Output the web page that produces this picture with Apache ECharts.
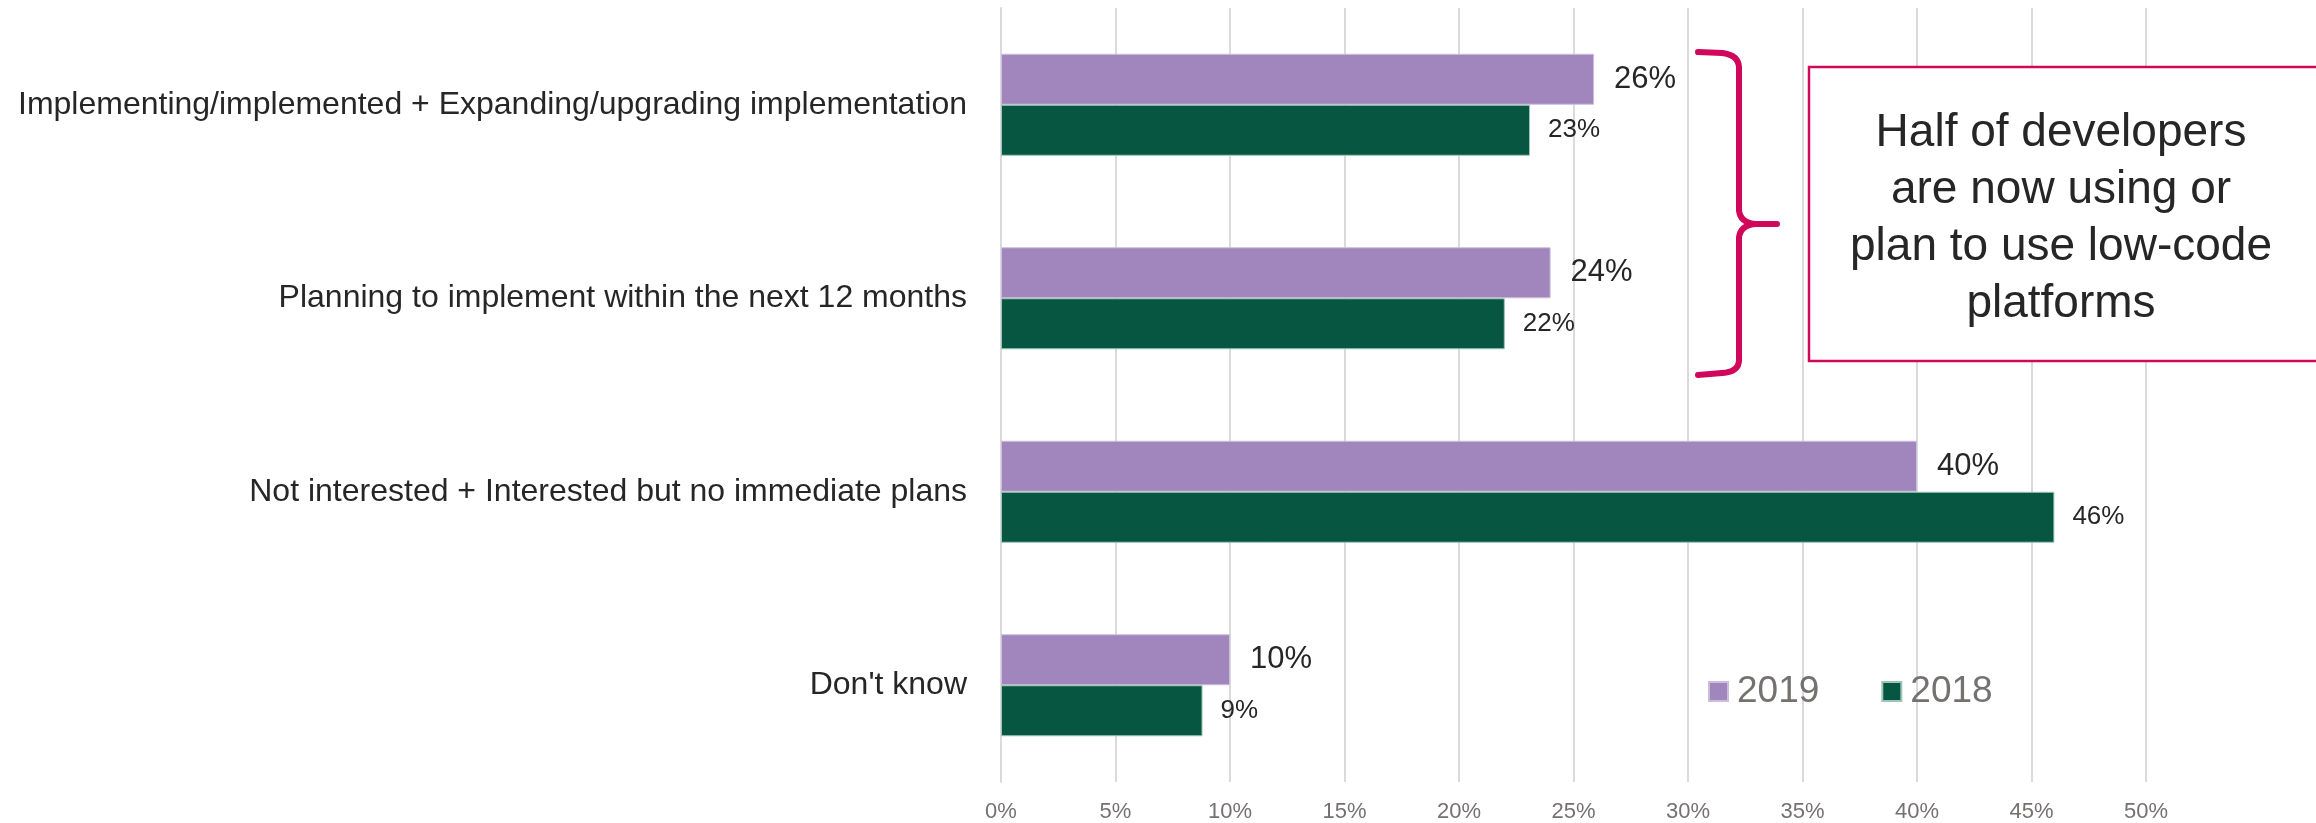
<!DOCTYPE html>
<html><head><meta charset="utf-8">
<script src="https://cdn.jsdelivr.net/npm/echarts@6/dist/echarts.min.js"></script>
<style>html,body{margin:0;padding:0;background:#fff}#c{width:2316px;height:823px}</style>
</head><body><div id="c"></div>
<script>
const categories = [
  "Implementing/implemented + Expanding/upgrading implementation",
  "Planning to implement within the next 12 months",
  "Not interested + Interested but no immediate plans",
  "Don't know"
];
const seriesNames = ["2019", "2018"];
const values2019 = [25.9, 24.0, 40.0, 10.0];
const values2018 = [23.1, 22.0, 46.0, 8.8];
const xMin = 0, xMax = 50, xStep = 5;
const noteLines = ["Half of developers", "are now using or", "plan to use low-code", "platforms"];

const FONT = "Liberation Sans, Arial, sans-serif";
const chart = echarts.init(document.getElementById('c'), null, {renderer: 'canvas'});
const pct = p => Math.round(p.value) + '%';
const BR = '#d1075c';
const braceStyle = {fill: null, stroke: BR, lineWidth: 6, lineCap: 'round'};
function curve(x1, y1, cx, cy, x2, y2) {
  return {type: 'bezierCurve', silent: true, z: 100, shape: {x1, y1, x2, y2, cpx1: cx, cpy1: cy}, style: braceStyle};
}
function seg(x1, y1, x2, y2) {
  return {type: 'line', silent: true, z: 100, shape: {x1, y1, x2, y2}, style: braceStyle};
}
chart.setOption({
  backgroundColor: '#fff',
  animation: false,
  textStyle: {fontFamily: FONT},
  grid: {left: 1001, right: 170, top: 8, bottom: 41, containLabel: false},
  xAxis: {
    type: 'value', min: xMin, max: xMax, interval: xStep,
    axisLine: {show: false}, axisTick: {show: false},
    splitLine: {show: true, lineStyle: {color: '#dadada', width: 2}},
    axisLabel: {formatter: '{value}%', color: '#767171', fontSize: 22, fontFamily: FONT, margin: 19}
  },
  yAxis: {
    type: 'category', data: categories, inverse: true,
    axisLine: {show: true, lineStyle: {color: '#dadada', width: 2}},
    axisTick: {show: false},
    axisLabel: {color: '#262626', fontSize: 32, fontFamily: FONT, margin: 34}
  },
  legend: {
    data: seriesNames, left: 1703, top: 668, itemWidth: 19, itemHeight: 19, itemGap: 62,
    icon: 'rect',
    textStyle: {color: '#767171', fontSize: 37, fontFamily: FONT, padding: [0, 0, 0, 4]}
  },
  series: [
    {name: seriesNames[0], type: 'bar', data: values2019, barWidth: 51, barGap: '0%',
     itemStyle: {color: '#a086bd', borderColor: '#cbbddc', borderWidth: 1},
     label: {show: true, position: 'right', distance: 20, formatter: pct, color: '#262626', fontSize: 31, fontFamily: FONT}},
    {name: seriesNames[1], type: 'bar', data: values2018, barWidth: 51, barGap: '0%',
     itemStyle: {color: '#075641', borderColor: '#9cc5b5', borderWidth: 1},
     label: {show: true, position: 'right', distance: 18, formatter: pct, color: '#262626', fontSize: 26, fontFamily: FONT}}
  ],
  graphic: [
    seg(1698, 52, 1722, 53),
    curve(1722, 53, 1739, 55, 1739, 68),
    seg(1739, 68, 1739, 210),
    curve(1739, 210, 1740, 223, 1756, 224),
    seg(1756, 224, 1777, 224),
    curve(1756, 224, 1740, 225, 1739, 238),
    seg(1739, 238, 1739, 360),
    curve(1739, 360, 1739, 372, 1722, 373),
    seg(1722, 373, 1698, 375),
    {type: 'rect', silent: true, z: 100, shape: {x: 1809, y: 67, width: 600, height: 294},
     style: {fill: '#fff', stroke: BR, lineWidth: 2.5}},
    {type: 'text', silent: true, z: 101, x: 2061, y: 219,
     style: {text: noteLines.join('\n'), font: '46px ' + FONT, fill: '#262626', align: 'center', verticalAlign: 'middle', lineHeight: 57}}
  ]
});
</script></body></html>
